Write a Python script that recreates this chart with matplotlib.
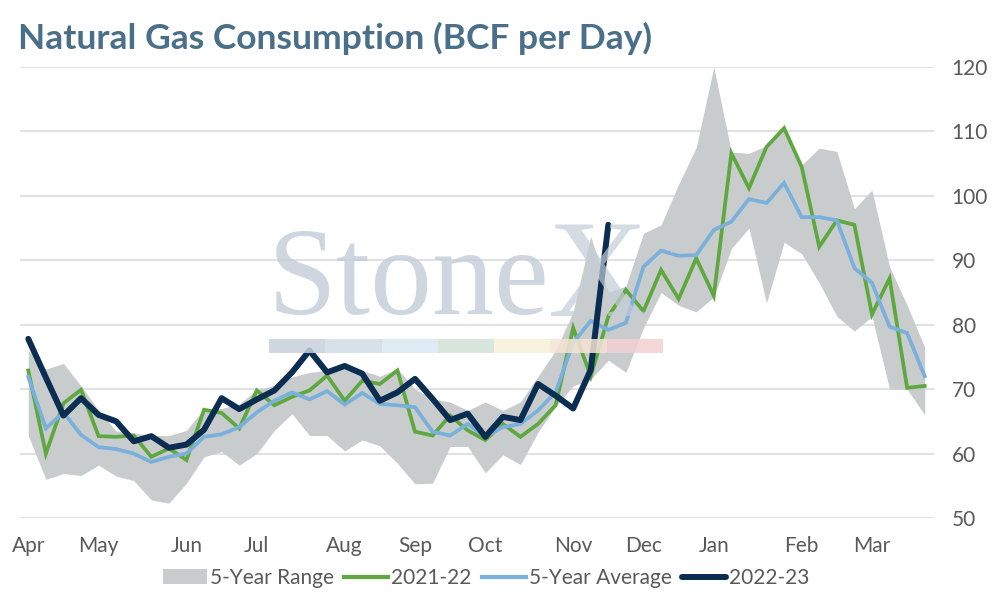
import numpy as np
import matplotlib
matplotlib.use("Agg")
import matplotlib.pyplot as plt
from matplotlib.patches import Patch, Rectangle
from matplotlib.lines import Line2D

plt.rcParams['font.family'] = ['Lato', 'DejaVu Sans']

# ---- data (weekly, Apr -> Mar) ----
months = ["Apr", "May", "Jun", "Jul", "Aug", "Sep", "Oct", "Nov", "Dec", "Jan", "Feb", "Mar"]
month_week_idx = [0, 4, 9, 13, 18, 22, 26, 31, 35, 39, 44, 48]

range_high = [76.0, 73.1, 74.0, 70.5, 66.7, 63.5, 63.2, 62.8, 62.8, 63.6,
              67.0, 67.0, 67.7, 69.9, 70.6, 71.9, 72.6, 72.9, 73.4, 72.9,
              72.0, 73.2, 70.0, 68.5, 68.0, 66.7, 68.0, 66.7, 68.0, 72.0,
              76.0, 82.0, 93.7, 85.0, 86.0, 94.2, 95.5, 101.8, 107.5, 120.0,
              106.8, 106.6, 107.8, 110.6, 104.8, 107.4, 106.9, 98.0, 100.9, 89.0,
              83.0, 76.5]
range_low = [62.8, 56.0, 56.9, 56.6, 58.2, 56.5, 55.8, 52.8, 52.3, 55.4,
             59.5, 60.3, 58.2, 60.0, 63.6, 66.2, 62.8, 62.8, 60.4, 62.1,
             61.2, 58.5, 55.3, 55.4, 61.1, 61.1, 57.0, 59.8, 58.3, 63.3,
             67.3, 70.5, 71.5, 74.5, 72.6, 79.5, 85.0, 83.0, 82.0, 84.3,
             91.8, 95.0, 83.4, 92.8, 91.0, 86.5, 81.3, 79.0, 81.3, 70.0,
             70.0, 66.0]
y2021_22 = [72.9, 60.0, 67.8, 69.9, 62.7, 62.6, 62.8, 59.5, 60.8, 59.0,
            66.8, 66.3, 63.9, 69.8, 67.5, 68.8, 69.8, 72.1, 68.2, 71.3,
            70.8, 72.9, 63.4, 62.8, 65.9, 63.6, 62.1, 64.6, 62.6, 64.6,
            67.5, 79.5, 72.0, 81.3, 85.4, 82.1, 88.5, 84.0, 90.3, 84.5,
            106.6, 101.2, 107.6, 110.5, 104.5, 92.1, 96.2, 95.5, 81.6, 87.2,
            70.2, 70.5]
avg_5yr = [71.9, 63.9, 66.4, 62.9, 61.0, 60.7, 60.0, 58.7, 59.5, 60.0,
           62.6, 63.0, 64.1, 66.4, 68.2, 69.5, 68.4, 69.7, 67.6, 69.4,
           67.7, 67.5, 67.2, 63.4, 62.8, 64.6, 62.6, 64.1, 64.6, 66.7,
           69.5, 77.2, 80.6, 79.2, 80.3, 89.0, 91.5, 90.7, 90.8, 94.7,
           96.0, 99.5, 98.9, 102.0, 96.7, 96.7, 96.2, 88.8, 86.5, 79.7,
           78.7, 72.0]
y2022_23 = [77.8, 71.8, 65.9, 68.6, 66.0, 65.0, 61.9, 62.7, 60.9, 61.4,
            63.7, 68.6, 66.9, 68.4, 69.8, 72.6, 76.0, 72.6, 73.6, 72.4,
            68.2, 69.5, 71.6, 68.5, 65.2, 66.2, 62.6, 65.7, 65.2, 70.8,
            69.0, 67.0, 73.0, 95.5]
y_ticks = [50, 60, 70, 80, 90, 100, 110, 120]

# ---- figure ----
W, H = 994, 601
fig = plt.figure(figsize=(W / 100, H / 100), dpi=100)
ax = fig.add_axes([19.5 / W, 1 - 518 / H, (933.5 - 19.5) / W, (518 - 67) / H])

x = np.arange(len(range_high))
ax.fill_between(x, range_low, range_high, color="#c9cccd", lw=0, zorder=1)

# watermark
wm_color = "#c3ccd8"
serif = ["Liberation Serif", "DejaVu Serif"]
fig.text(268 / W, 1 - 314 / H, "Stone", family=serif,
         fontsize=89, color=wm_color, alpha=0.8, ha="left", va="baseline", zorder=2)
fig.text(548 / W, 1 - 316 / H, "X", family=serif,
         fontsize=100, color=wm_color, alpha=0.7, ha="left", va="baseline", zorder=2)
fig.text(668 / W, 1 - 253 / H, "TM", fontsize=9, color=wm_color, alpha=0.75,
         ha="left", va="baseline", zorder=2)
bar_cols = ["#c8d0dc", "#d1dce8", "#dae8f3", "#d3e2d9", "#f7f1d7", "#f4e3d4", "#f2d0d3"]
seg_w = (663 - 269) / 7
for k, c in enumerate(bar_cols):
    fig.patches.append(Rectangle(((269 + k * seg_w) / W, 1 - 353 / H), seg_w / W, 14 / H,
                                 transform=fig.transFigure, color=c, alpha=0.85, lw=0, zorder=2))

ax.plot(x, y2021_22, color="#5fa83f", lw=2.7, zorder=4, solid_joinstyle="miter")
ax.plot(x, avg_5yr, color="#7ab0dc", lw=2.7, zorder=5, solid_joinstyle="miter")
ax.plot(x[:len(y2022_23)], y2022_23, color="#0c2d52", lw=4.3, zorder=6,
        solid_joinstyle="round", solid_capstyle="round")

ax.set_xlim(-0.5, len(x) - 0.5)
ax.set_ylim(50, 120)
ax.set_yticks(y_ticks)
ax.yaxis.tick_right()
ax.grid(axis="y", color="#d9d9d9", lw=1.1, zorder=0)
ax.set_axisbelow(True)
for s in ax.spines.values():
    s.set_visible(False)
ax.set_xticks(month_week_idx)
ax.set_xticklabels(months)
ax.tick_params(axis="both", length=0, labelsize=15, labelcolor="#595959")
ax.tick_params(axis="y", pad=13)
ax.tick_params(axis="x", pad=13)

fig.text(18 / W, 1 - 38 / H, "Natural Gas Consumption (BCF per Day)", fontsize=25.5,
         fontweight="bold", color="#4a6f89", ha="left", va="center")

handles = [Patch(color="#c9cccd", lw=0),
           Line2D([], [], color="#5fa83f", lw=3),
           Line2D([], [], color="#7ab0dc", lw=3),
           Line2D([], [], color="#0c2d52", lw=4.3, solid_capstyle="round")]
labels = ["5-Year Range", "2021-22", "5-Year Average", "2022-23"]
fig.legend(handles, labels, loc="center", bbox_to_anchor=(486 / W, 1 - 578 / H), ncol=4,
           frameon=False, fontsize=15, handlelength=2.1, handletextpad=0.15,
           columnspacing=0.5, labelcolor="#595959")

fig.savefig("out.png", dpi=100)
